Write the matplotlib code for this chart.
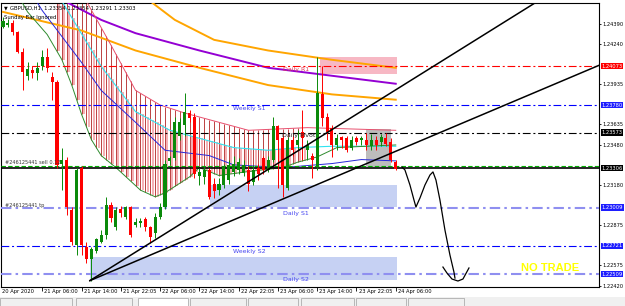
import numpy as np
import matplotlib
matplotlib.use("Agg")
import matplotlib.pyplot as plt
from matplotlib.patches import Rectangle

W, H = 625, 306

# ---------------- data ----------------
opens = [1.2437,1.2438,1.2440,1.2433,1.2418,1.2400,1.2404,1.2402,1.2407,1.2414,
         1.2399,1.2395,1.2334,1.2337,1.2299,1.2273,1.2331,1.2271,1.2262,1.2268,
         1.2275,1.2280,1.2303,1.2286,1.2300,1.2294,1.2301,1.2288,1.2289,1.2292,
         1.2286,1.2282,1.2294,1.2301,1.2336,1.2338,1.2355,1.2363,1.2372,1.2369,
         1.2325,1.2324,1.2329,1.2319,1.2314,1.2318,1.2322,1.2328,1.2329,1.2327,
         1.2329,1.2320,1.2331,1.2338,1.2329,1.2337,1.2362,1.2353,1.2316,1.2352,
         1.2348,1.2358,1.2344,1.2340,1.2332,1.2386,1.2369,1.2361,1.2348,1.2354,
         1.2353,1.2346,1.2353,1.2352,1.2352,1.2347,1.2352,1.2350,1.2353,1.2350,
         1.2335]
closes = [1.2441,1.2440,1.2433,1.2418,1.2403,1.2405,1.2402,1.2406,1.2414,1.2406,
          1.2395,1.2333,1.2337,1.2301,1.2275,1.2329,1.2273,1.2262,1.2270,1.2277,
          1.2280,1.2303,1.2293,1.2299,1.2297,1.2301,1.2280,1.2290,1.2291,1.2286,
          1.2279,1.2294,1.2301,1.2334,1.2338,1.2365,1.2365,1.2373,1.2368,1.2326,
          1.2328,1.2329,1.2309,1.2313,1.2319,1.2332,1.2333,1.2334,1.2335,1.2333,
          1.2319,1.2329,1.2326,1.2329,1.2337,1.2362,1.2352,1.2318,1.2352,1.2344,
          1.2352,1.2353,1.2348,1.2337,1.2387,1.2368,1.2358,1.2348,1.2353,1.2352,
          1.2344,1.2352,1.2350,1.2353,1.2348,1.2352,1.2348,1.2354,1.2349,1.2337,
          1.2330]
highs = [1.2444,1.2443,1.2442,1.2434,1.2421,1.2410,1.2407,1.2410,1.2419,1.2421,
         1.2403,1.2397,1.2346,1.2339,1.2301,1.2331,1.2332,1.2275,1.2271,1.2278,
         1.2284,1.2309,1.2305,1.2301,1.2302,1.2302,1.2302,1.2293,1.2293,1.2294,
         1.2287,1.2297,1.2304,1.2337,1.2340,1.2369,1.2368,1.2387,1.2374,1.2372,
         1.2331,1.2332,1.2331,1.2323,1.2323,1.2334,1.2337,1.2340,1.2338,1.2337,
         1.2332,1.2333,1.2334,1.2340,1.2340,1.2369,1.2363,1.2355,1.2354,1.2355,
         1.2359,1.2374,1.2352,1.2342,1.2414,1.2407,1.2372,1.2363,1.2356,1.2355,
         1.2355,1.2355,1.2355,1.2355,1.2357,1.2356,1.2355,1.2356,1.2357,1.2353,
         1.2337]
lows = [1.2436,1.2437,1.2431,1.2417,1.2389,1.2397,1.2398,1.2397,1.2404,1.2403,
        1.2382,1.2331,1.2314,1.2295,1.2273,1.2265,1.2265,1.2259,1.2246,1.2267,
        1.2274,1.2277,1.2290,1.2284,1.2294,1.2292,1.2279,1.2286,1.2286,1.2283,
        1.2274,1.2278,1.2292,1.2300,1.2333,1.2337,1.2352,1.2355,1.2365,1.2323,
        1.2318,1.2319,1.2307,1.2308,1.2310,1.2316,1.2319,1.2325,1.2326,1.2325,
        1.2313,1.2318,1.2322,1.2326,1.2328,1.2335,1.2316,1.2309,1.2314,1.2340,
        1.2344,1.2337,1.2337,1.2323,1.2329,1.2362,1.2352,1.2339,1.2344,1.2346,
        1.2343,1.2344,1.2348,1.2348,1.2344,1.2344,1.2344,1.2347,1.2347,1.2335,
        1.2329]

# moving averages (bar index, price)
purple_x = [10, 20, 27, 40, 54, 67, 80]
purple_y = [1.2461, 1.2442, 1.2432, 1.2419, 1.2406, 1.2400, 1.2394]
orange1_x = [28, 30, 35, 43, 54, 67, 80]
orange1_y = [1.2461, 1.2456, 1.2442, 1.2427, 1.2419, 1.2412, 1.2406]
orange2_x = [0, 16, 27, 40, 54, 67, 80]
orange2_y = [1.2448, 1.2434, 1.2419, 1.2406, 1.2393, 1.2386, 1.2382]
pink_x = [16, 17, 22, 27, 32, 37, 40, 50, 62, 80]
pink_y = [1.2463, 1.2456, 1.2423, 1.2389, 1.2378, 1.2372, 1.2369, 1.2359, 1.2361, 1.2359]
cyan_x = [11, 12, 20, 27, 34, 40, 47, 54, 60, 67, 80]
cyan_y = [1.2461, 1.2456, 1.2407, 1.2373, 1.2359, 1.2353, 1.2346, 1.2344, 1.2346, 1.2347, 1.2347]
blue_x = [6, 8, 16, 20, 27, 33, 42, 47, 57, 67, 73, 80]
blue_y = [1.2461, 1.2449, 1.2410, 1.2389, 1.2365, 1.2344, 1.2340, 1.2333, 1.2331, 1.2334, 1.2337, 1.2336]
green_x = [3, 5, 9, 12, 14, 16, 18, 20, 23, 28, 31, 33, 38, 40, 44, 50, 57, 60, 64, 68, 80]
green_y = [1.2461, 1.2448, 1.2431, 1.2412, 1.2393, 1.2371, 1.2352, 1.2340, 1.2331, 1.2314, 1.2309,
           1.2312, 1.2324, 1.2331, 1.2325, 1.2328, 1.2331, 1.2335, 1.2339, 1.2346, 1.2348]

# horizontal levels
lv_r1, lv_ws1, lv_piv, lv_bid, lv_sell, lv_ds1, lv_ws2, lv_ds2 = (
    1.24073, 1.23780, 1.23573, 1.23306, 1.23320, 1.23009, 1.22721, 1.22509)
plain_ticks = [1.24390, 1.24240, 1.23935, 1.23635, 1.23480, 1.23180, 1.22875, 1.22575, 1.22420]

# zones (x0, x1, y0, y1)
zone_r1 = (64.5, 80.3, 1.2401, 1.2414)
zone_s1 = (42.2, 80.3, 1.2301, 1.2318)
zone_s2 = (17.7, 80.3, 1.22465, 1.22638)
zone_gray = (73.9, 79.0, 1.23315, 1.2360)

# trend lines (bar, price)
trend_start = (17.7, 1.2246)
trendA_end = (121.5, 1.2485)
trendB_end = (121.5, 1.2408)

# projected path
proj_x = [81.26, 81.87, 82.89, 83.71, 84.11, 84.93, 85.95, 86.97, 87.58, 88.19, 89.00, 90.02, 91.04, 91.85, 92.06]
proj_y = [1.23314, 1.23292, 1.23179, 1.23066, 1.23013, 1.23081, 1.23179, 1.23254, 1.23277, 1.23216,
          1.23066, 1.22840, 1.22652, 1.22525, 1.22479]
hook_x = [89.61, 90.43, 91.45, 92.67, 93.69, 94.91]
hook_y = [1.22562, 1.22517, 1.22472, 1.22457, 1.22472, 1.22555]

xtick_bars = [8, 16, 24, 32, 40, 48, 56, 64, 72, 80]
xtick_labels = ["21 Apr 06:00", "21 Apr 14:00", "21 Apr 22:05", "22 Apr 06:00", "22 Apr 14:00",
                "22 Apr 22:05", "23 Apr 06:00", "23 Apr 14:00", "23 Apr 22:05", "24 Apr 06:00"]

# ---------------- figure ----------------
fig = plt.figure(figsize=(W / 100, H / 100), dpi=100)
fig.patch.set_facecolor("white")
L, R, T, B = 1, 599, 3, 287
ax = fig.add_axes([L / W, 1 - B / H, (R - L) / W, (B - T) / H])
ax.set_xlim(-0.41, 121.4)
ax.set_ylim(1.22412, 1.24547)
ax.set_facecolor("white")
for s in ax.spines.values():
    s.set_color("black")
    s.set_linewidth(0.8)

FS = 3.7
DD = (0, (7, 2.5, 1.8, 2.5))

# zones
for (x0, x1, y0, y1), col in [(zone_r1, "#F7B8C4"), (zone_s1, "#C6D1F3"),
                              (zone_s2, "#C6D1F3"), (zone_gray, "#BDBDBD")]:
    ax.add_patch(Rectangle((x0, y0), x1 - x0, y1 - y0, fc=col, ec="none", zorder=1))

# cloud hatch
n = len(opens)
bars = np.arange(n)
top_line = np.interp(bars, pink_x, pink_y, left=1.2463)
cy_line = np.interp(bars, cyan_x, cyan_y, left=1.2463)
gr_line = np.interp(bars, green_x, green_y)
hb = np.arange(11, 62)
ax.vlines(hb + 0.5, cy_line[hb], gr_line[hb], colors="#F3A9AE", lw=1.3, zorder=2)
ax.vlines(hb, top_line[hb], gr_line[hb], colors="#B22222", lw=0.6, zorder=2)

# moving averages
ax.plot(orange2_x, orange2_y, color="#FFA500", lw=1.4, zorder=3)
ax.plot(orange1_x, orange1_y, color="#FFA500", lw=1.4, zorder=3)
ax.plot(purple_x, purple_y, color="#9400D3", lw=1.4, zorder=3)
ax.plot(pink_x, pink_y, color="#E8506E", lw=0.7, zorder=3)
ax.plot(cyan_x, cyan_y, color="#30E3F0", lw=0.8, zorder=3)
ax.plot(blue_x, blue_y, color="#2626D8", lw=0.7, zorder=3)
ax.plot(green_x, green_y, color="#2E8B2E", lw=0.7, zorder=3)

# levels
ax.axhline(lv_r1, color="#FF0000", lw=0.8, ls=DD, zorder=4)
ax.axhline(lv_ws1, color="#0000FF", lw=0.8, ls=DD, zorder=4)
ax.axhline(lv_piv, color="#000000", lw=0.8, ls=DD, zorder=4)
ax.axhline(lv_ds1, color="#8F8FF0", lw=1.5, ls=(0, (5, 2, 1.2, 2)), zorder=4)
ax.axhline(lv_ws2, color="#0000FF", lw=0.8, ls=DD, zorder=4)
ax.axhline(lv_ds2, color="#8F8FF0", lw=1.5, ls=(0, (5, 2, 1.2, 2)), zorder=4)
ax.axhline(lv_sell, color="#00B000", lw=0.8, ls=(0, (4, 2)), zorder=4)
ax.axhline(lv_bid, color="#000000", lw=1.2, zorder=4)

# candles
o = np.array(opens); c = np.array(closes); h = np.array(highs); lo = np.array(lows)
up = c >= o
cols = np.where(up, "#0A8A0A", "#FF0000")
ax.vlines(bars, lo, h, colors=cols, lw=0.7, zorder=5)
ax.bar(bars, np.maximum(np.abs(c - o), 0.00004), bottom=np.minimum(o, c), width=0.62,
       color=cols, edgecolor="none", zorder=5)

# trend lines
ax.plot([trend_start[0], trendA_end[0]], [trend_start[1], trendA_end[1]], color="black", lw=1.1, zorder=6)
ax.plot([trend_start[0], trendB_end[0]], [trend_start[1], trendB_end[1]], color="black", lw=1.1, zorder=6)
ax.plot(proj_x, proj_y, color="black", lw=0.9, zorder=6)
ax.plot(hook_x, hook_y, color="black", lw=0.9, zorder=6)

# chart texts
def t(px, py, s, **kw):
    fig.text(px / W, 1 - py / H, s, **kw)

t(296, 69, "Daily R1", fontsize=4.5, color="#E63A55", ha="center", va="center")
t(249, 108, "Weekly S1", fontsize=4.5, color="#4646F0", ha="center", va="center")
t(299, 136, "Daily Pivot", fontsize=4.5, color="#222222", ha="center", va="center")
t(296, 213, "Daily S1", fontsize=4.5, color="#4646F0", ha="center", va="center")
t(249, 251, "Weekly S2", fontsize=4.5, color="#4646F0", ha="center", va="center")
t(296, 279, "Daily S2", fontsize=4.5, color="#4646F0", ha="center", va="center")
t(5, 163, "#246125441 sell 0.12", fontsize=3.6, color="#333333", ha="left", va="center")
t(5, 205, "#246125441 tp", fontsize=3.6, color="#333333", ha="left", va="center")
t(521, 268, "NO TRADE", fontsize=8, color="#FFFF00", ha="left", va="center",
  family="Liberation Sans", weight="bold")
t(4, 8, "\u25bc", fontsize=3.5, color="black", ha="left", va="center")
t(10, 8, "GBPUSD,H1  1.23354 1.23354 1.23291 1.23303", fontsize=3.8, color="black", ha="left", va="center")
t(4, 17, "Sunday Bar Ignored", fontsize=3.8, color="black", ha="left", va="center")

# right axis
ax.yaxis.tick_right()
ax.set_yticks(plain_ticks)
ax.set_yticklabels([f"{v:.5f}" for v in plain_ticks])
ax.tick_params(axis="y", length=1.5, width=0.6, pad=0.8, labelsize=FS, colors="black")
ax.set_xticks(xtick_bars)
ax.set_xticklabels([])
ax.tick_params(axis="x", length=3, width=0.6, direction="out")

for val, fc in [(lv_r1, "#FF0000"), (lv_ws1, "#1E1EFF"), (lv_piv, "#000000"), (lv_bid, "#000000"),
                (lv_ds1, "#1E1EFF"), (lv_ws2, "#1E1EFF"), (lv_ds2, "#1E1EFF")]:
    ax.text(1.004, val, f"{val:.5f}", transform=ax.get_yaxis_transform(), fontsize=FS, color="white",
            ha="left", va="center", zorder=10, clip_on=False,
            bbox=dict(boxstyle="square,pad=0.15", fc=fc, ec="none"))

# x labels
t(2, 292, "20 Apr 2020", fontsize=FS, color="black", ha="left", va="center")
for b, lab in zip(xtick_bars, xtick_labels):
    px = 3 + b * 4.91
    t(px + 2, 292, lab, fontsize=FS, color="black", ha="left", va="center")

# bottom tab strip
fig.patches.append(Rectangle((0, 0), 1, 9.5 / H, transform=fig.transFigure, fc="#F0F0F0", ec="none", zorder=0))
tabs = [(0, 72), (76, 132), (138, 188), (190, 246), (248, 298), (301, 354), (356, 406), (408, 464)]
for i, (a, b) in enumerate(tabs):
    fc = "white" if i == 2 else "#F0F0F0"
    fig.patches.append(Rectangle((a / W, 0), (b - a) / W, 8.5 / H, transform=fig.transFigure,
                                 fc=fc, ec="#A0A0A0", lw=0.5, zorder=1))

fig.savefig("out.png", dpi=100)
